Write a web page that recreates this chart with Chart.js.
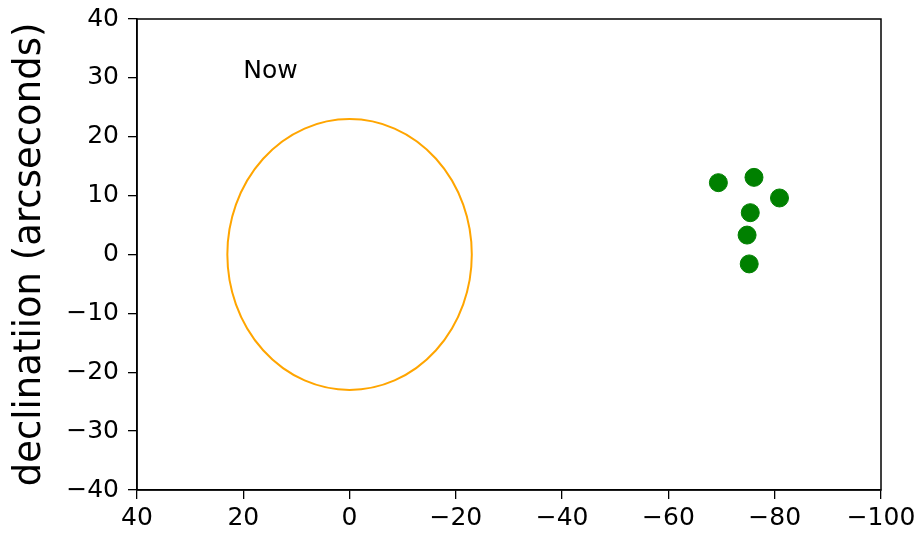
<!DOCTYPE html>
<html>
<head>
<meta charset="utf-8">
<script src="https://cdn.jsdelivr.net/npm/chart.js@4"></script>
<style>
  html, body { margin: 0; padding: 0; background: #fff; }
  #wrap { width: 923px; height: 536px; position: relative; }
</style>
</head>
<body>
<div id="wrap"><canvas id="chart"></canvas></div>
<script>
// --- Data ---
const raValues  = [-69.4, -76.1, -80.9, -75.4, -74.8, -75.2];
const decValues = [12.2, 13.1, 9.6, 7.1, 3.3, -1.6];
const xTicks = [40, 20, 0, -20, -40, -60, -80, -100];
const yTicks = [40, 30, 20, 10, 0, -10, -20, -30, -40];
const circleCenter = [0, 0];
const circleRadius = 23;
const nowLabel = { text: "Now", x: 20, y: 30 };

const FONT = "'DejaVu Sans', sans-serif";
const minus = (v) => (v < 0 ? "\u2212" + Math.abs(v) : String(v));

// --- Plugins: frame, ellipse, annotation ---
const extras = {
  id: "extras",
  afterDatasetsDraw(chart) {
    const { ctx, chartArea: a, scales: { x, y } } = chart;
    ctx.save();
    // ellipse (circle in data units)
    const cx = x.getPixelForValue(circleCenter[0]);
    const cy = y.getPixelForValue(circleCenter[1]);
    const rx = Math.abs(x.getPixelForValue(circleCenter[0] + circleRadius) - cx);
    const ry = Math.abs(y.getPixelForValue(circleCenter[1] + circleRadius) - cy);
    ctx.beginPath();
    ctx.ellipse(cx, cy, rx, ry, 0, 0, Math.PI * 2);
    ctx.strokeStyle = "#FFA500";
    ctx.lineWidth = 2;
    ctx.stroke();
    // text
    ctx.fillStyle = "#000";
    ctx.font = "25px " + FONT;
    ctx.textAlign = "left";
    ctx.textBaseline = "alphabetic";
    ctx.fillText(nowLabel.text, x.getPixelForValue(nowLabel.x), y.getPixelForValue(nowLabel.y));
    // frame
    ctx.strokeStyle = "#000";
    ctx.lineWidth = 1.5;
    ctx.strokeRect(a.left, a.top, a.right - a.left, a.bottom - a.top);
    ctx.restore();
  }
};

const ctx = document.getElementById("chart").getContext("2d");
new Chart(ctx, {
  type: "scatter",
  data: {
    datasets: [{
      data: raValues.map((v, i) => ({ x: v, y: decValues[i] })),
      backgroundColor: "#008000",
      borderColor: "#008000",
      pointRadius: 9,
      pointHoverRadius: 9,
    }],
  },
  options: {
    responsive: true,
    maintainAspectRatio: false,
    animation: false,
    layout: { padding: { top: 19, right: 42, left: 0, bottom: 0 } },
    plugins: { legend: { display: false }, tooltip: { enabled: false } },
    scales: {
      x: {
        type: "linear",
        reverse: true,
        min: -100, max: 40,
        afterBuildTicks: (s) => { s.ticks = xTicks.map(v => ({ value: v })); },
        afterFit: (s) => { s.height = 46; s.paddingLeft = 0; s.paddingRight = 0; },
        grid: { drawOnChartArea: false, drawTicks: true, tickLength: 9, color: "#000", lineWidth: 1.3 },
        border: { display: true, color: "#000", width: 1.5 },
        ticks: { color: "#000", padding: 4, maxRotation: 0, font: { family: FONT, size: 25 }, callback: minus },
      },
      y: {
        type: "linear",
        min: -40, max: 40,
        afterBuildTicks: (s) => { s.ticks = yTicks.map(v => ({ value: v })); },
        afterFit: (s) => { s.width = 137; s.paddingTop = 0; s.paddingBottom = 0; },
        grid: { drawOnChartArea: false, drawTicks: true, tickLength: 9, color: "#000", lineWidth: 1.3 },
        border: { display: true, color: "#000", width: 1.5 },
        ticks: { color: "#000", padding: 9, font: { family: FONT, size: 25 }, callback: minus },
        title: { display: true, text: "declinatiion (arcseconds)", color: "#000", font: { family: FONT, size: 37 }, padding: { top: 8, bottom: 0 } },
      },
    },
  },
  plugins: [extras],
});
</script>
</body>
</html>
